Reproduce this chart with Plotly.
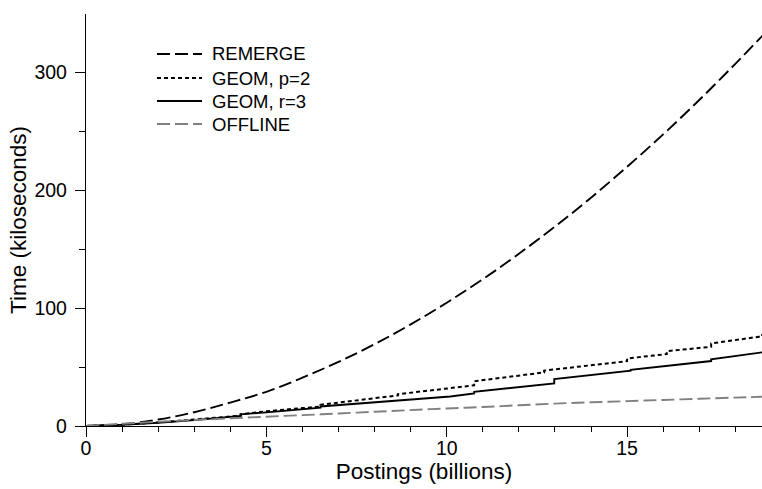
import plotly.graph_objects as go

# ---- data -------------------------------------------------------------
series_names = ["REMERGE", "GEOM, p=2", "GEOM, r=3", "OFFLINE"]

remerge_x = [0, 1, 2, 3, 4, 5, 6, 7, 8, 9, 10, 11, 12, 13, 14, 15, 16, 17, 18, 18.75]
remerge_y = [0, 1.5, 5.5, 11.7, 19.9, 29.0, 41.0, 54.4, 69.4, 86.2, 104.6, 124.5,
             146.1, 169.1, 193.7, 219.9, 247.4, 276.5, 307.2, 331.0]

geom_p2_x = [0, 1, 2, 3, 4.3, 4.3, 5, 6, 6.5, 6.5, 7.8, 8.65, 8.65, 9.65, 10.76, 10.76,
             12.7, 12.7, 14.0, 15.0, 15.0, 16.1, 16.1, 17.33, 17.33, 18.65, 18.65, 18.75]
geom_p2_y = [0, 1.1, 3.0, 5.3, 8.8, 10.0, 12.5, 15.2, 16.4, 18.0, 23.0, 26.0, 27.0, 30.5,
             34.5, 38.0, 45.4, 47.0, 51.6, 55.0, 57.3, 61.0, 63.5, 67.2, 70.0, 75.7, 77.0, 77.3]

geom_r3_x = [0, 1, 2, 3, 4.28, 4.28, 5, 6, 6.5, 6.5, 8.72, 10.1, 10.76, 10.76, 12.98,
             12.98, 15.1, 15.1, 17.33, 17.33, 18.75]
geom_r3_y = [0, 1.0, 2.8, 5.0, 8.6, 9.9, 11.6, 14.3, 15.6, 16.6, 22.0, 25.0, 27.6, 29.0,
             36.1, 39.8, 46.9, 47.6, 55.1, 56.5, 62.5]

offline_x = [0, 1, 2, 3, 4, 5, 6, 7, 8, 9, 10, 11, 12, 13, 14, 15, 16, 17, 18, 18.75]
offline_y = [0, 1.9, 3.6, 5.1, 6.5, 7.9, 9.2, 10.6, 12.1, 13.5, 14.9, 16.1, 17.6,
             19.0, 20.1, 21.1, 22.1, 23.1, 24.1, 24.8]

# ---- styling ----------------------------------------------------------
FONT = "Liberation Sans, Arial, Helvetica, sans-serif"
W, H = 762, 489
M_L, M_R, M_T, M_B = 86, 0, 14, 63
X_RANGE = [0, 18.74]
Y_RANGE = [0, 349.5]

styles = [
    dict(color="#000000", width=1.9, dash="13px,5px"),
    dict(color="#000000", width=2.0, dash="4px,3px"),
    dict(color="#000000", width=1.9, dash="solid"),
    dict(color="#808080", width=1.9, dash="13px,5px"),
]
shapes_kind = ["spline", "linear", "linear", "spline"]
xs = [remerge_x, geom_p2_x, geom_r3_x, offline_x]
ys = [remerge_y, geom_p2_y, geom_r3_y, offline_y]

fig = go.Figure()
for name, x, y, st, shp in zip(series_names, xs, ys, styles, shapes_kind):
    fig.add_trace(go.Scatter(x=x, y=y, mode="lines", name=name,
                             line=dict(color=st["color"], width=st["width"],
                                       dash=st["dash"], shape=shp),
                             showlegend=False))

# ---- legend drawn in paper space -------------------------------------
pw = W - M_L - M_R
ph = H - M_T - M_B


def px_x(px):
    return (px - M_L) / pw


def px_y(py):
    return (H - M_B - py) / ph


row_y = [54, 78, 101, 124]
for name, st, ry in zip(series_names, styles, row_y):
    fig.add_shape(type="line", xref="paper", yref="paper",
                  x0=px_x(157), x1=px_x(202), y0=px_y(ry), y1=px_y(ry),
                  line=dict(color=st["color"], width=st["width"], dash=st["dash"]))
    fig.add_annotation(xref="paper", yref="paper", x=px_x(210), y=px_y(ry),
                       text=name, showarrow=False, xanchor="left", yanchor="middle",
                       font=dict(family=FONT, size=18.5, color="#000000"))

axis_common = dict(
    showgrid=False, zeroline=False, showline=True, linecolor="#000000", linewidth=1.3,
    ticks="outside", ticklen=10, tickwidth=1.3, tickcolor="#000000",
    tickfont=dict(family=FONT, size=19.5, color="#000000"),
)

fig.update_layout(
    width=W, height=H,
    margin=dict(l=M_L, r=M_R, t=M_T, b=M_B),
    paper_bgcolor="white", plot_bgcolor="white",
    font=dict(family=FONT, color="#000000"),
    xaxis=dict(range=X_RANGE, tickvals=[0, 5, 10, 15],
               minor=dict(ticks="outside", ticklen=5, dtick=1, tick0=0,
                          tickcolor="#000000", tickwidth=1.3),
               ticklabelstandoff=-6,
               title=dict(text="Postings (billions)", font=dict(family=FONT, size=22.5),
                          standoff=0),
               **axis_common),
    yaxis=dict(range=Y_RANGE, tickvals=[0, 100, 200, 300],
               minor=dict(ticks="outside", ticklen=6, dtick=50, tick0=0,
                          tickcolor="#000000", tickwidth=1.3),
               ticklabelstandoff=4,
               title=dict(text="Time (kiloseconds)", font=dict(family=FONT, size=22.5),
                          standoff=1),
               **axis_common),
)

fig.write_html("out.html")
